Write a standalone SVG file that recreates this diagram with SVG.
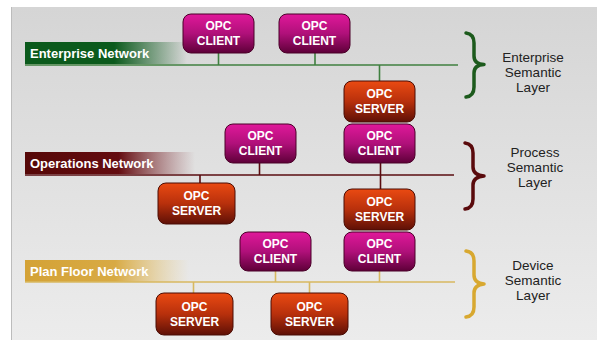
<svg xmlns="http://www.w3.org/2000/svg" width="597" height="340" viewBox="0 0 597 340">
<defs>
<linearGradient id="bg" x1="0" y1="0" x2="0" y2="1"><stop offset="0" stop-color="#d5d5d5"/><stop offset="1" stop-color="#ececec"/></linearGradient>
<linearGradient id="gc" x1="0" y1="0" x2="0" y2="1"><stop offset="0" stop-color="#e0189a"/><stop offset="0.5" stop-color="#b0107a"/><stop offset="1" stop-color="#5e0038"/></linearGradient>
<linearGradient id="gs" x1="0" y1="0" x2="0" y2="1"><stop offset="0" stop-color="#ea4a12"/><stop offset="0.5" stop-color="#b8300c"/><stop offset="1" stop-color="#5e1006"/></linearGradient>
<linearGradient id="bgreen" x1="0" y1="0" x2="1" y2="0"><stop offset="0" stop-color="#0b5a1c"/><stop offset="0.55" stop-color="#0b5a1c"/><stop offset="1" stop-color="#0b5a1c" stop-opacity="0"/></linearGradient>
<linearGradient id="bred" x1="0" y1="0" x2="1" y2="0"><stop offset="0" stop-color="#560808"/><stop offset="0.55" stop-color="#640c10"/><stop offset="1" stop-color="#8a3a40" stop-opacity="0"/></linearGradient>
<linearGradient id="bgold" x1="0" y1="0" x2="1" y2="0"><stop offset="0" stop-color="#d4a236"/><stop offset="0.55" stop-color="#d8aa44"/><stop offset="1" stop-color="#e8c878" stop-opacity="0"/></linearGradient>
</defs>
<style>
.nt{font-family:"Liberation Sans",Arial,sans-serif;font-weight:bold;font-size:12px;fill:#fff;text-anchor:middle}
.bt{font-family:"Liberation Sans",Arial,sans-serif;font-weight:bold;font-size:13px;fill:#fff}
.lt{font-family:"Liberation Sans",Arial,sans-serif;font-size:13.5px;fill:#222;text-anchor:middle}
.client{fill:url(#gc);stroke:#4a0028;stroke-width:1}
.server{fill:url(#gs);stroke:#4a0c04;stroke-width:1}
.cg{stroke:#3f7f3f;stroke-width:1.6;fill:none}
.cr{stroke:#5a0c10;stroke-width:1.6;fill:none}
.cy{stroke:#d8b860;stroke-width:1.6;fill:none}
.brace{fill:none;stroke-width:3.5;stroke-linecap:round;stroke-linejoin:round}
</style>
<rect x="0" y="0" width="597" height="340" fill="#fff"/>
<rect x="11" y="7" width="586" height="333" fill="url(#bg)"/>
<line x1="11.5" y1="7" x2="11.5" y2="340" stroke="#bcbcbc" stroke-width="1"/>

<g id="banners">
<rect x="25" y="42" width="162" height="22" fill="url(#bgreen)"/>
<text class="bt" x="30" y="58">Enterprise Network</text>
<rect x="25" y="152" width="170" height="22" fill="url(#bred)"/>
<text class="bt" x="30" y="168">Operations Network</text>
<rect x="25" y="260" width="164" height="22" fill="url(#bgold)"/>
<text class="bt" x="30" y="276">Plan Floor Network</text>
</g>

<g id="connectors">
<line class="cg" x1="25" y1="65" x2="458" y2="65"/>
<line class="cg" x1="218.5" y1="53" x2="218.5" y2="65"/>
<line class="cg" x1="315" y1="53" x2="315" y2="65"/>
<line class="cg" x1="379.5" y1="65" x2="379.5" y2="81"/>
<line class="cr" x1="25" y1="175" x2="454" y2="175"/>
<line class="cr" x1="259.5" y1="163" x2="259.5" y2="175"/>
<line class="cr" x1="200" y1="175" x2="200" y2="183"/>
<line class="cr" x1="380.5" y1="163" x2="380.5" y2="189"/>
<line class="cy" x1="25" y1="282" x2="455" y2="282"/>
<line class="cy" x1="275.5" y1="271" x2="275.5" y2="282"/>
<line class="cy" x1="379.5" y1="271" x2="379.5" y2="282"/>
<line class="cy" x1="193.5" y1="282" x2="193.5" y2="293"/>
<line class="cy" x1="309.5" y1="282" x2="309.5" y2="293"/>
</g>

<g id="client1"><rect class="client" x="183" y="14" width="71" height="39" rx="8"/><text class="nt" x="218.5" y="30">OPC</text><text class="nt" x="218.5" y="45">CLIENT</text></g>
<g id="client2"><rect class="client" x="279" y="14" width="71" height="39" rx="8"/><text class="nt" x="314.5" y="30">OPC</text><text class="nt" x="314.5" y="45">CLIENT</text></g>
<g id="server1"><rect class="server" x="344" y="81" width="71" height="41" rx="8"/><text class="nt" x="379.5" y="98">OPC</text><text class="nt" x="379.5" y="113">SERVER</text></g>

<g id="client3"><rect class="client" x="225" y="124" width="71" height="39" rx="8"/><text class="nt" x="260.5" y="140">OPC</text><text class="nt" x="260.5" y="155">CLIENT</text></g>
<g id="client4"><rect class="client" x="344" y="124" width="71" height="39" rx="8"/><text class="nt" x="379.5" y="140">OPC</text><text class="nt" x="379.5" y="155">CLIENT</text></g>
<g id="server2"><rect class="server" x="158" y="183" width="77" height="41" rx="8"/><text class="nt" x="196.5" y="200">OPC</text><text class="nt" x="196.5" y="215">SERVER</text></g>
<g id="server3"><rect class="server" x="344" y="189" width="71" height="41" rx="8"/><text class="nt" x="379.5" y="206">OPC</text><text class="nt" x="379.5" y="221">SERVER</text></g>

<g id="client5"><rect class="client" x="240" y="232" width="71" height="39" rx="8"/><text class="nt" x="275.5" y="248">OPC</text><text class="nt" x="275.5" y="263">CLIENT</text></g>
<g id="client6"><rect class="client" x="344" y="232" width="71" height="39" rx="8"/><text class="nt" x="379.5" y="248">OPC</text><text class="nt" x="379.5" y="263">CLIENT</text></g>
<g id="server4"><rect class="server" x="156" y="293" width="77" height="42" rx="8"/><text class="nt" x="194.5" y="311">OPC</text><text class="nt" x="194.5" y="326">SERVER</text></g>
<g id="server5"><rect class="server" x="271" y="293" width="77" height="42" rx="8"/><text class="nt" x="309.5" y="311">OPC</text><text class="nt" x="309.5" y="326">SERVER</text></g>

<g id="layer-enterprise">
<path class="brace" stroke="#1c5a1c" d="M466,33 Q474,34 474,43 L474,56 Q474,64 484,64.5 Q474,65 474,73 L474,87 Q474,96 466,97"/>
<text class="lt"><tspan x="533" y="62">Enterprise</tspan><tspan x="533" y="77">Semantic</tspan><tspan x="533" y="92">Layer</tspan></text>
</g>
<g id="layer-process">
<path class="brace" stroke="#5a0a0c" d="M465,143 Q473,144 473,153 L473,167 Q473,175 484,176 Q473,177 473,185 L473,199 Q473,208 465,209"/>
<text class="lt"><tspan x="535" y="157">Process</tspan><tspan x="535" y="172">Semantic</tspan><tspan x="535" y="187">Layer</tspan></text>
</g>
<g id="layer-device">
<path class="brace" stroke="#d8a830" d="M466,251 Q474,252 474,261 L474,275 Q474,283 484,284 Q474,285 474,293 L474,307 Q474,316 466,317"/>
<text class="lt"><tspan x="533" y="270">Device</tspan><tspan x="533" y="285">Semantic</tspan><tspan x="533" y="300">Layer</tspan></text>
</g>
</svg>
